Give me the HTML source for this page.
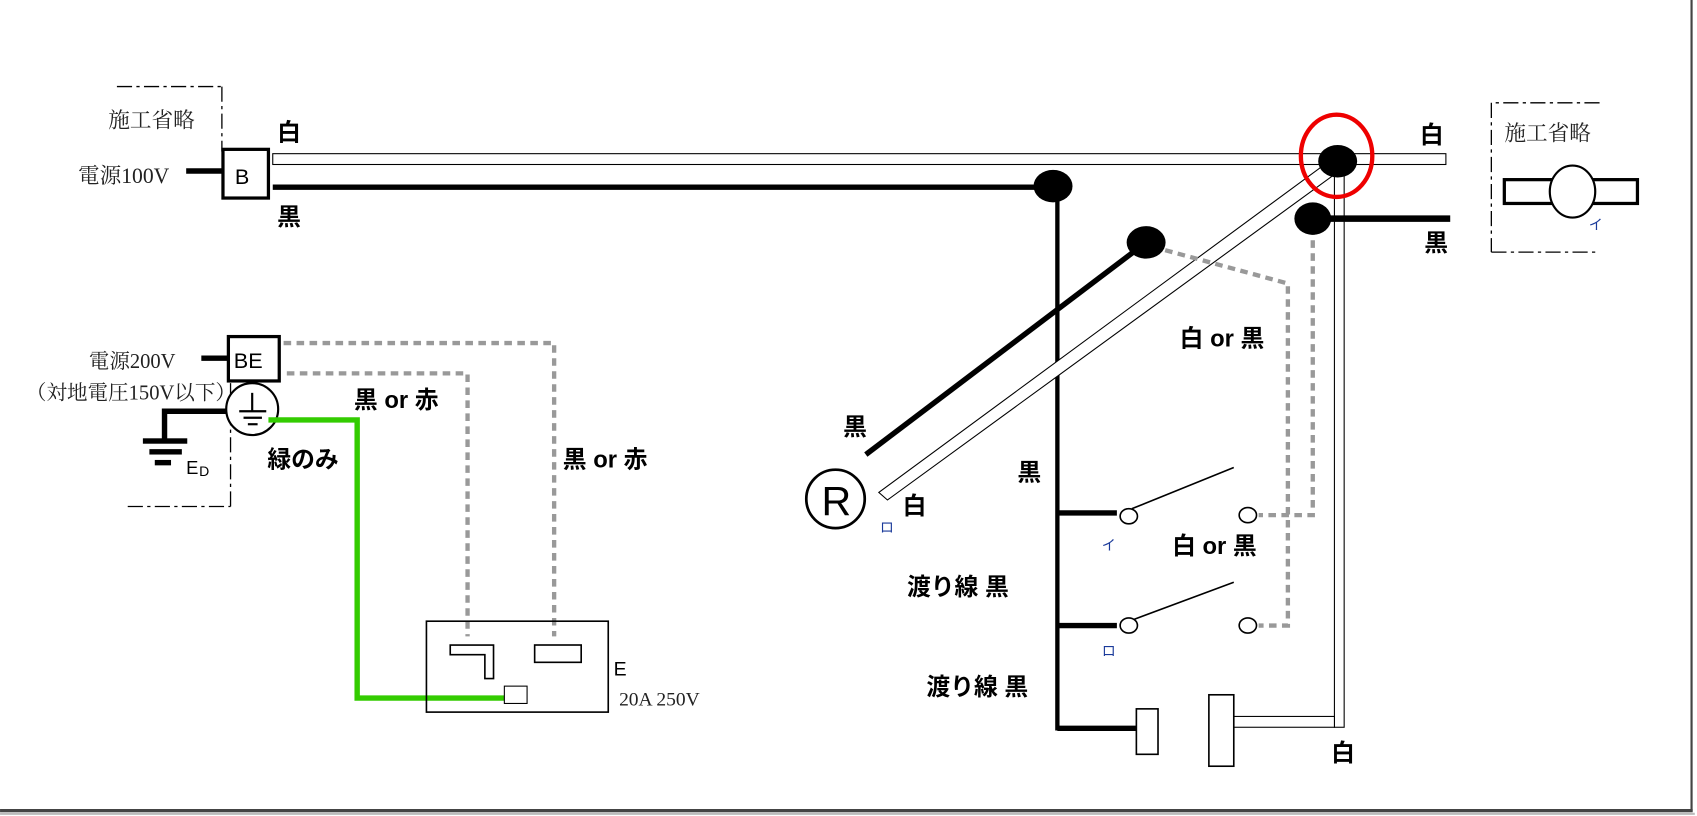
<!DOCTYPE html>
<html><head><meta charset="utf-8"><style>
html,body{margin:0;padding:0;background:#fff;}
svg{display:block;}
text{font-family:"Liberation Sans","Noto Sans CJK JP",sans-serif;fill:#000;font-weight:bold;}
.s{font-family:"Liberation Serif","Noto Serif CJK SC",serif;fill:#222;font-weight:normal;}
.b{fill:#1a3a9a;font-size:13px;font-weight:normal;}
</style></head><body>
<svg width="1697" height="816" viewBox="0 0 1568 754" xmlns="http://www.w3.org/2000/svg">
<rect x="0" y="0" width="1568" height="754" fill="#fff"/>
<line x1="0" y1="749" x2="1564" y2="749" stroke="#444" stroke-width="3"/>
<line x1="1563" y1="0" x2="1563" y2="750" stroke="#444" stroke-width="2"/>
<line x1="0" y1="752" x2="1566" y2="752" stroke="#bbb" stroke-width="2"/>

<g stroke="#000" stroke-width="1.2" fill="none" stroke-dasharray="14,4,3,4">
<line x1="108" y1="80" x2="205" y2="80"/><line x1="205" y1="80" x2="205" y2="140"/>
<line x1="213" y1="354" x2="213" y2="468"/><line x1="118" y1="468" x2="213" y2="468"/>
<line x1="1478" y1="95" x2="1378" y2="95"/><line x1="1378" y1="95" x2="1378" y2="233"/><line x1="1378" y1="233" x2="1478" y2="233"/>
</g>
<text class="s" x="100" y="118" font-size="20">施工省略</text>
<text class="s" x="1390" y="130" font-size="20">施工省略</text>
<text class="s" x="72" y="169" font-size="20">電源100V</text>
<line x1="172" y1="158" x2="206" y2="158" stroke="#000" stroke-width="5"/>
<rect x="206" y="138" width="42" height="45" fill="#fff" stroke="#000" stroke-width="3"/>
<text x="217" y="170" font-size="20" style="font-weight:normal">B</text>
<text x="256" y="130" font-size="22">白</text>
<text x="256" y="208" font-size="22">黒</text>

<rect x="252" y="142" width="1084" height="10" fill="#fff" stroke="#000" stroke-width="1"/>
<line x1="252" y1="173" x2="972" y2="173" stroke="#000" stroke-width="5"/>
<line x1="977" y1="172" x2="977" y2="675" stroke="#000" stroke-width="4"/>
<rect x="1233" y="160" width="9" height="512" fill="#fff" stroke="#000" stroke-width="1"/>
<rect x="1140" y="662" width="93" height="10" fill="#fff" stroke="#000" stroke-width="1"/>
<polygon points="1224,152 1232,162 820,462 812,455" fill="#fff" stroke="#000" stroke-width="1"/>
<line x1="1059" y1="224" x2="800" y2="420" stroke="#000" stroke-width="5"/>
<g stroke="#999" stroke-width="4" fill="none" stroke-dasharray="7,5">
<polyline points="1065,228 1190,262 1190,578 1163,578"/>
<polyline points="1213,210 1213,476 1163,476"/>
</g>
<ellipse cx="973" cy="172" rx="18" ry="15" fill="#000"/>
<ellipse cx="1236" cy="149" rx="18" ry="15" fill="#000"/>
<ellipse cx="1213" cy="202" rx="17" ry="15" fill="#000"/>
<ellipse cx="1059" cy="224" rx="18" ry="15" fill="#000"/>
<line x1="1228" y1="202" x2="1340" y2="202" stroke="#000" stroke-width="6"/>
<ellipse cx="1235" cy="144" rx="33" ry="38" fill="none" stroke="#e00" stroke-width="4"/>
<text x="1312" y="132" font-size="22">白</text>
<text x="1316" y="232" font-size="22">黒</text>
<rect x="1390" y="166" width="123" height="22" fill="#fff" stroke="#000" stroke-width="3"/>
<ellipse cx="1453" cy="177" rx="21" ry="24" fill="#fff" stroke="#000" stroke-width="2"/>
<text class="b" x="1468" y="212">イ</text>

<text x="779" y="402" font-size="22">黒</text>
<circle cx="772" cy="461" r="27" fill="#fff" stroke="#000" stroke-width="2.5"/>
<text x="759" y="476" font-size="38" style="font-weight:normal">R</text>
<text x="834" y="475" font-size="22">白</text>
<text class="b" x="813" y="492">ロ</text>

<text x="940" y="444" font-size="22">黒</text>
<text x="1090" y="320" font-size="22">白 or 黒</text>
<text x="1083" y="512" font-size="22">白 or 黒</text>
<text x="838" y="550" font-size="22">渡り線 黒</text>
<text x="856" y="642" font-size="22">渡り線 黒</text>
<g stroke="#000">
<line x1="977" y1="474" x2="1032" y2="474" stroke-width="5"/>
<line x1="1046" y1="470" x2="1140" y2="432" stroke-width="1.5"/>
<line x1="977" y1="578" x2="1032" y2="578" stroke-width="5"/>
<line x1="1046" y1="573" x2="1140" y2="538" stroke-width="1.5"/>
<line x1="977" y1="673" x2="1050" y2="673" stroke-width="5"/>
</g>
<g fill="#fff" stroke="#000" stroke-width="1.5">
<ellipse cx="1043" cy="477" rx="8" ry="7"/><ellipse cx="1153" cy="476" rx="8" ry="7"/>
<ellipse cx="1043" cy="578" rx="8" ry="7"/><ellipse cx="1153" cy="578" rx="8" ry="7"/>
<rect x="1050" y="655" width="20" height="42"/>
<rect x="1117" y="642" width="23" height="66"/>
</g>
<text class="b" x="1018" y="508">イ</text>
<text class="b" x="1018" y="606">ロ</text>
<text x="1230" y="703" font-size="22">白</text>

<text class="s" x="82" y="340" font-size="19">電源200V</text>
<text class="s" x="218" y="369" font-size="19" text-anchor="end">（対地電圧150V以下）</text>
<line x1="186" y1="331" x2="211" y2="331" stroke="#000" stroke-width="5"/>
<rect x="211" y="311" width="47" height="41" fill="#fff" stroke="#000" stroke-width="3"/>
<text x="216" y="340" font-size="20" style="font-weight:normal">BE</text>
<polyline points="212,380 152,380 152,406" fill="none" stroke="#000" stroke-width="5"/>
<rect x="132" y="405" width="41" height="5" fill="#000"/>
<rect x="138" y="415" width="30" height="5" fill="#000"/>
<rect x="143" y="425" width="15" height="5" fill="#000"/>
<text x="172" y="438" font-size="17" style="font-weight:normal">E</text><text x="184" y="440" font-size="13" style="font-weight:normal">D</text>
<ellipse cx="233" cy="378" rx="24" ry="24" fill="#fff" stroke="#000" stroke-width="2"/>
<g stroke="#000" stroke-width="2"><line x1="233" y1="363" x2="233" y2="380"/><line x1="221" y1="380" x2="246" y2="380"/><line x1="225" y1="386" x2="242" y2="386"/><line x1="229" y1="392" x2="238" y2="392"/></g>
<polyline points="248,388 330,388 330,645 466,645" fill="none" stroke="#33cc00" stroke-width="5"/>
<text x="247" y="432" font-size="22">緑のみ</text>
<g stroke="#999" stroke-width="4" fill="none" stroke-dasharray="7,5">
<polyline points="262,317 512,317 512,588"/>
<polyline points="265,345 432,345 432,588"/>
</g>
<text x="327" y="377" font-size="22">黒 or 赤</text>
<text x="520" y="432" font-size="22">黒 or 赤</text>
<rect x="394" y="574" width="168" height="84" fill="none" stroke="#000" stroke-width="1.5"/>
<polygon points="416,596 456,596 456,627 448,627 448,605 416,605" fill="#fff" stroke="#000" stroke-width="1.5"/>
<rect x="494" y="596" width="43" height="16" fill="#fff" stroke="#000" stroke-width="1.5"/>
<rect x="466" y="634" width="21" height="16" fill="#fff" stroke="#000" stroke-width="1"/>
<text x="567" y="624" font-size="18" style="font-weight:normal">E</text>
<text class="s" x="572" y="652" font-size="18">20A 250V</text>
</svg>
</body></html>
